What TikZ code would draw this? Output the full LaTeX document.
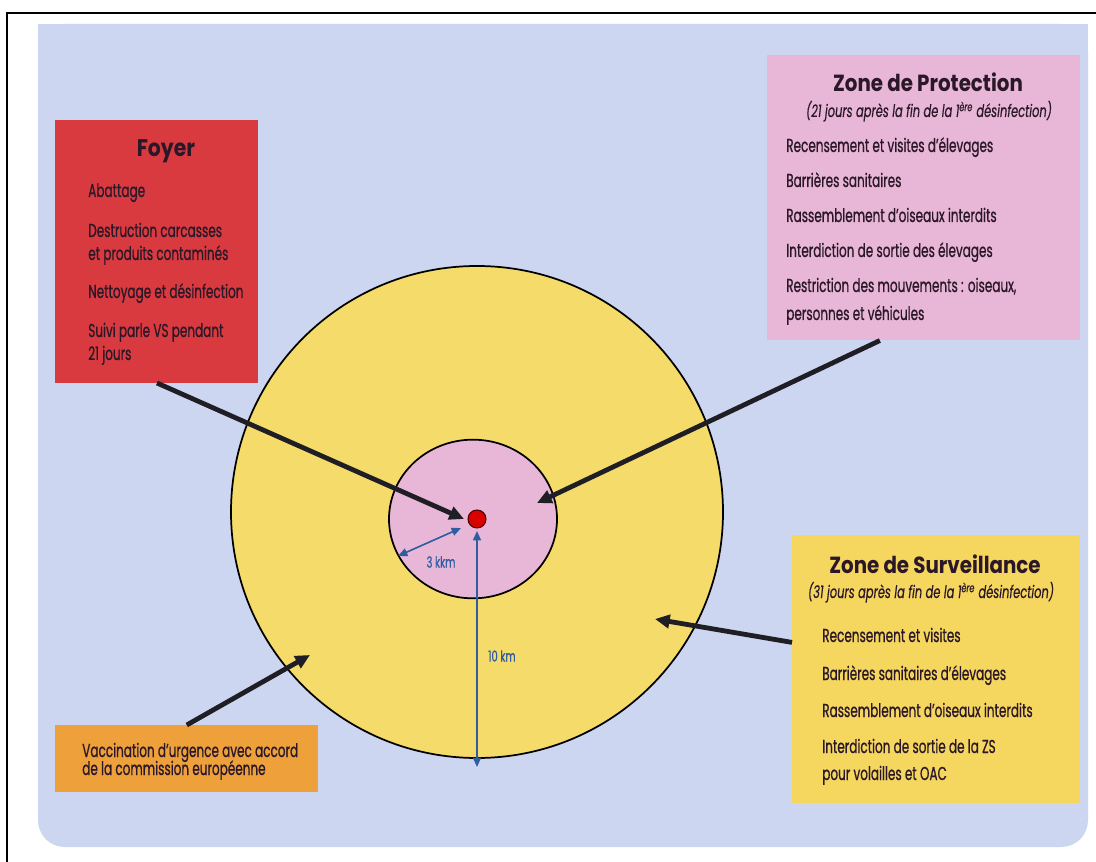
\documentclass[tikz,border=0pt]{standalone}
\usepackage{fontspec}
\setmainfont{Poppins}[FakeStretch=0.65]
\newfontfamily\itemfont{Poppins}[FakeStretch=0.645,FakeBold=0.7]
\newfontfamily\titlefont{Poppins}[FakeStretch=0.85]
\newfontfamily\subfont{Poppins}[FakeStretch=0.66,FakeBold=0.4]
\usetikzlibrary{arrows.meta,calc,shapes.geometric}
\definecolor{bgblue}{HTML}{CDD6F1}
\definecolor{foyred}{HTML}{D93A3F}
\definecolor{zppink}{HTML}{E8B6D6}
\definecolor{zsyellow}{HTML}{F5D65E}
\definecolor{circyellow}{HTML}{F5DB6A}
\definecolor{vacorange}{HTML}{EEA03B}
\definecolor{txt}{HTML}{2A1828}
\definecolor{dimblue}{HTML}{2F5DA0}
\definecolor{arrowblack}{HTML}{1E1E24}
\tikzset{
  zbox/.style={inner sep=0, anchor=north west, draw=none},
  itm/.style={anchor=base west, inner sep=0, text=txt, font=\itemfont\fontsize{14}{16}\selectfont},
  ttl/.style={anchor=base, inner sep=0, text=txt, font=\titlefont\bfseries\fontsize{17.5}{20}\selectfont},
  sub/.style={anchor=base, inner sep=0, text=txt, font=\subfont\itshape\fontsize{13}{15}\selectfont},
  bigarrow/.style={line width=3.6pt, draw=arrowblack, -{Triangle[length=11pt,width=10pt]}},
  dimarrow/.style={line width=1.2pt, draw=dimblue, {Triangle[length=7pt,width=6pt]}-{Triangle[length=7pt,width=6pt]}},
  dimlabel/.style={inner sep=0, text=dimblue, font=\itemfont\fontsize{11.5}{13}\selectfont},
}
\begin{document}
\begin{tikzpicture}[x=0.75pt,y=-0.75pt]
\useasboundingbox (0,0) rectangle (1096,862);
\fill[white] (0,0) rectangle (1096,862);
% frame
\draw[line width=1.4pt] (7,862) -- (7,13) -- (1096,13);
% background panel
\fill[bgblue, rounded corners=20] (38,24) rectangle (1088,847);
\fill[bgblue] (38,24) rectangle (1088,120);
% circles
\node (zscircle) [circle, draw=black, line width=1.3pt, fill=circyellow, minimum size=369pt, inner sep=0] at (477,512) {};
\node (zpcircle) [ellipse, draw=black, line width=1.3pt, fill=zppink, minimum width=126pt, minimum height=119pt, inner sep=0] at (473,519) {};
\node (dot) [circle, draw=black!70!red, line width=0.8pt, fill=red!85!black, minimum size=13.5pt, inner sep=0] at (477,519) {};
% boxes
\node (foyerbox) [zbox, fill=foyred, minimum width=152.25pt, minimum height=197.25pt] at (55,120) {};
\node (zpbox) [zbox, fill=zppink, minimum width=234.75pt, minimum height=213.75pt] at (767,55) {};
\node (zsbox) [zbox, fill=zsyellow, minimum width=216pt, minimum height=201pt] at (792,535) {};
\node (vacbox) [zbox, fill=vacorange, minimum width=197.25pt, minimum height=50.25pt] at (55,725) {};
% Foyer text
\node (foyertitle) [ttl, font=\titlefont\bfseries\fontsize{18}{20}\selectfont] at (166,157) {Foyer};
\node (f1) [itm] at (88,197) {Abattage};
\node (f2) [itm] at (88,237) {Destruction carcasses};
\node (f3) [itm] at (88,260) {et produits contaminés};
\node (f4) [itm] at (88,298) {Nettoyage et désinfection};
\node (f5) [itm] at (88,337) {Suivi parle VS pendant};
\node (f6) [itm] at (88,360) {21 jours};
% Zone de Protection text
\node (zptitle) [ttl] at (928,92) {Zone de Protection};
\node (zpsub) [sub] at (929,117) {(21 jours après la fin de la 1\textsuperscript{ère} désinfection)};
\node (p1) [itm] at (786,152) {Recensement et visites d’élevages};
\node (p2) [itm] at (786,187) {Barrières sanitaires};
\node (p3) [itm] at (786,222) {Rassemblement d’oiseaux interdits};
\node (p4) [itm] at (786,257) {Interdiction de sortie des élevages};
\node (p5) [itm] at (786,292) {Restriction des mouvements : oiseaux,};
\node (p6) [itm] at (786,320) {personnes et véhicules};
% Zone de Surveillance text
\node (zstitle) [ttl] at (935,573) {Zone de Surveillance};
\node (zssub) [sub] at (931,598) {(31 jours après la fin de la 1\textsuperscript{ère} désinfection)};
\node (s1) [itm] at (822,642) {Recensement et visites};
\node (s2) [itm] at (822,680) {Barrières sanitaires d’élevages};
\node (s3) [itm] at (822,717) {Rassemblement d’oiseaux interdits};
\node (s4) [itm] at (822,753) {Interdiction de sortie de la ZS};
\node (s5) [itm] at (822,780) {pour volailles et OAC};
% Vaccination text
\node (v1) [itm] at (82,757) {Vaccination d’urgence avec accord};
\node (v2) [itm] at (82,775) {de la commission européenne};
% dimension arrows
\coordinate (tenA) at (477,531);
\coordinate (tenB) at (477,767);
\draw[dimarrow] (tenA) -- (tenB);
\node (tenlabel) [dimlabel] at (502,656) {10 km};
\coordinate (threeA) at (398,556);
\coordinate (threeB) at (461,528);
\draw[dimarrow] (threeA) -- (threeB);
\node (threelabel) [dimlabel] at (441,562) {3 kkm};
% pointer arrows
\coordinate (foyertip) at (464,519);
\coordinate (zptip) at (537,503);
\coordinate (zstip) at (655,619);
\coordinate (vactip) at (310,655);
\draw[bigarrow] (157,383) -- (foyertip);
\draw[bigarrow] ($(zpbox.south west)!0.36!(zpbox.south east)$) -- (zptip);
\draw[bigarrow] ($(zsbox.north west)!0.40!(zsbox.south west)$) -- (zstip);
\draw[bigarrow] (vacbox.north) -- (vactip);
\end{tikzpicture}
\end{document}
